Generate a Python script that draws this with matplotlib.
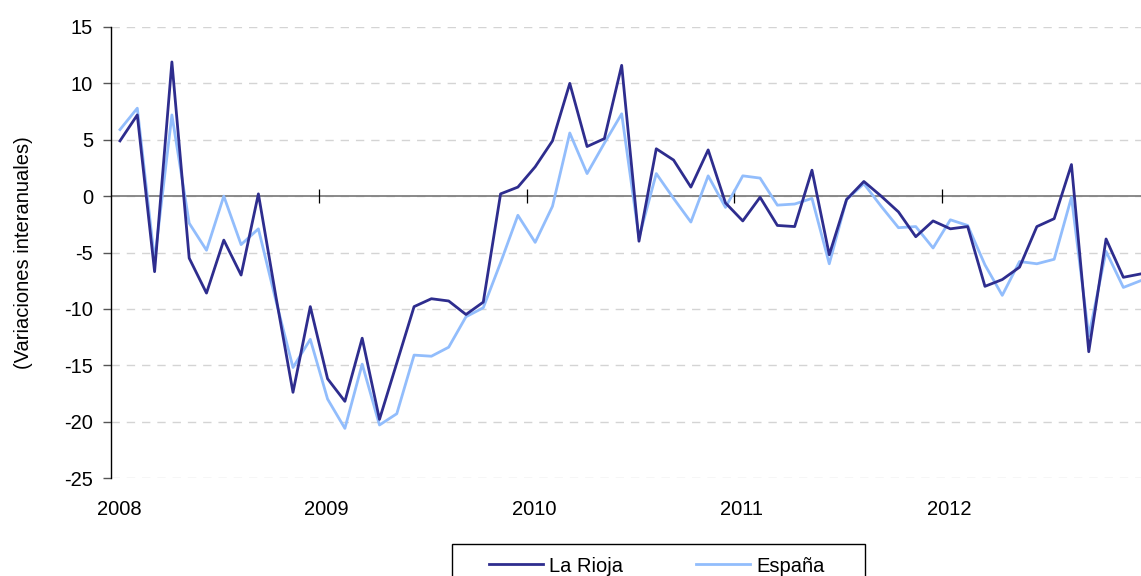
import matplotlib
matplotlib.use("Agg")
import matplotlib.pyplot as plt
from matplotlib.patches import Rectangle
import numpy as np

# monthly year-on-year variation, Jan 2008 .. Dec 2012
la_rioja = [4.9, 7.2, -6.7, 11.9, -5.5, -8.6, -3.9, -7.0, 0.2, -8.8, -17.4, -9.8,
            -16.2, -18.2, -12.6, -19.8, -14.8, -9.8, -9.1, -9.3, -10.5, -9.4, 0.2, 0.8,
            2.6, 4.9, 10.0, 4.4, 5.1, 11.6, -4.0, 4.2, 3.2, 0.8, 4.1, -0.6,
            -2.2, -0.1, -2.6, -2.7, 2.3, -5.2, -0.3, 1.3, 0.0, -1.4, -3.6, -2.2,
            -2.9, -2.7, -8.0, -7.4, -6.3, -2.7, -2.0, 2.8, -13.8, -3.8, -7.2, -6.9]
espana = [5.9, 7.8, -5.7, 7.2, -2.4, -4.8, 0.0, -4.3, -2.9, -9.2, -15.2, -12.7,
          -18.0, -20.6, -14.9, -20.3, -19.3, -14.1, -14.2, -13.4, -10.7, -9.9, -5.9, -1.7,
          -4.1, -0.9, 5.6, 2.0, 4.7, 7.3, -3.7, 2.0, -0.2, -2.3, 1.8, -1.0,
          1.8, 1.6, -0.8, -0.7, -0.2, -6.0, -0.3, 1.1, -0.9, -2.8, -2.7, -4.6,
          -2.1, -2.6, -6.1, -8.8, -5.8, -6.0, -5.6, -0.1, -12.4, -4.9, -8.1, -7.5]
years = ["2008", "2009", "2010", "2011", "2012"]
series_names = ["La Rioja", "España"]

plt.rcParams["font.family"] = ["Liberation Sans", "DejaVu Sans"]
plt.rcParams["axes.unicode_minus"] = False
FS = 14.5

W, H = 1141, 576
fig = plt.figure(figsize=(W / 100, H / 100), dpi=100)
ax = fig.add_axes([111 / W, 1 - 478 / H, 1 - 111 / W, 451 / H])

x = np.arange(len(la_rioja))
ax.set_xlim(-0.52, 59.02)
ax.set_ylim(-25, 15)

# dashed grid + zero axis line with year separators
yt = np.arange(-25, 16, 5)
for v in yt:
    ax.axhline(v, color="#d4d4d4", lw=1.0, ls=(0, (6, 5)), zorder=0)
ax.axhline(0, color="#808080", lw=1.3, zorder=1)
ax.vlines(np.arange(11.5, 59, 12), -0.6, 0.6, color="black", lw=0.9, zorder=1)

ax.plot(x, la_rioja, color="#2e2d8e", lw=2.0, label=series_names[0], zorder=3)
ax.plot(x, espana, color="#92bdfc", lw=2.0, label=series_names[1], zorder=2)

for s in ["top", "right", "bottom"]:
    ax.spines[s].set_visible(False)
ax.spines["left"].set_color("black")
ax.spines["left"].set_linewidth(1.0)

ax.set_yticks(yt)
ax.tick_params(axis="y", length=6, width=1, color="#555555", pad=7, labelsize=FS)
ax.set_xticks(np.arange(0, 60, 12) - 0.05, years)
ax.tick_params(axis="x", length=0, pad=16, labelsize=FS)
ax.set_ylabel("(Variaciones interanuales)", fontsize=FS)
ax.yaxis.set_label_coords(-78 / (W - 111), 0.5)

leg = fig.legend(loc="center left", bbox_to_anchor=(489 / W, 1 - 566 / H), ncol=2,
                 fontsize=FS, frameon=False, handlelength=2.7, handletextpad=0.3,
                 columnspacing=3.6, borderpad=0, borderaxespad=0)
# legend box (cut by the bottom edge as in the source)
fig.patches.append(Rectangle((452 / W, -0.1), (865 - 452) / W, 0.1 + 1 - 544 / H,
                             transform=fig.transFigure, fill=False,
                             edgecolor="black", lw=1.0))

fig.savefig("out.png", dpi=100)
